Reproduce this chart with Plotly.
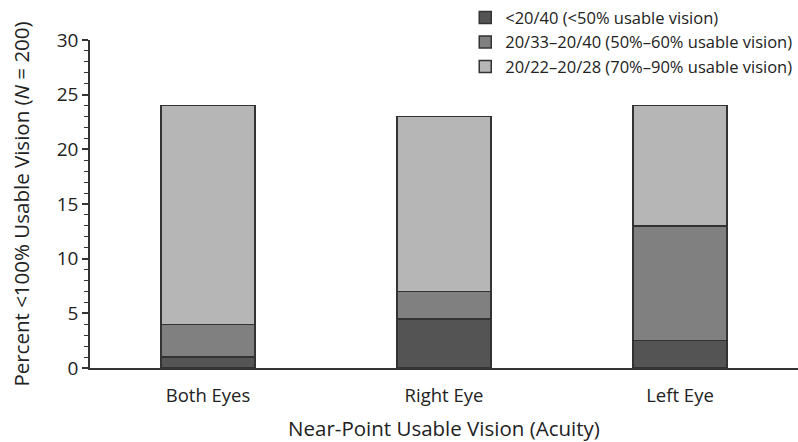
import plotly.graph_objects as go

categories = ["Both Eyes", "Right Eye", "Left Eye"]
series_names = [
    "<20/40 (<50% usable vision)",
    "20/33–20/40 (50%–60% usable vision)",
    "20/22–20/28 (70%–90% usable vision)",
]
low_vals = [1.0, 4.5, 2.5]
mid_vals = [3.0, 2.5, 10.5]
high_vals = [20.0, 16.0, 11.0]
colors = ["#545454", "#808080", "#b6b6b6"]

fig = go.Figure()
for name, vals, c in zip(series_names, [low_vals, mid_vals, high_vals], colors):
    fig.add_trace(go.Bar(
        x=categories, y=vals, name=name,
        marker=dict(color=c, line=dict(color="#333333", width=1.5)),
        width=0.4,
    ))

font_family = "Open Sans, Noto Sans, sans-serif"
txt = "#222222"
fig.update_layout(
    barmode="stack",
    width=798, height=442,
    margin=dict(l=90, r=0, t=40, b=74),
    paper_bgcolor="white", plot_bgcolor="white",
    font=dict(family=font_family, color=txt, size=17),
    legend=dict(
        traceorder="normal",
        x=0.53, y=1.121, xanchor="left", yanchor="top",
        font=dict(size=16.5, color=txt),
        itemwidth=30, tracegroupgap=0,
        bgcolor="rgba(0,0,0,0)",
    ),
    xaxis=dict(
        showline=True, linecolor="#333333", linewidth=1.5,
        ticks="", showgrid=False,
        ticklabelstandoff=10,
        tickfont=dict(size=18.5, color=txt),
        title=dict(text="Near-Point Usable Vision (Acuity)", font=dict(size=20.5), standoff=16),
    ),
    yaxis=dict(
        range=[0, 30], dtick=5,
        showline=True, linecolor="#333333", linewidth=1.5,
        ticks="outside", ticklen=6, tickcolor="#333333", tickwidth=1.5,
        minor=dict(dtick=1, ticks="outside", ticklen=4, tickcolor="#333333", tickwidth=1),
        showgrid=False, zeroline=False,
        tickfont=dict(size=19, color=txt),
        title=dict(text="Percent <100% Usable Vision (<i>N</i> = 200)", font=dict(size=20.5), standoff=22),
    ),
)

fig.write_html(
    "out.html",
    config={"displayModeBar": False},
    post_script="document.body.style.margin='0';document.body.style.padding='0';",
)
